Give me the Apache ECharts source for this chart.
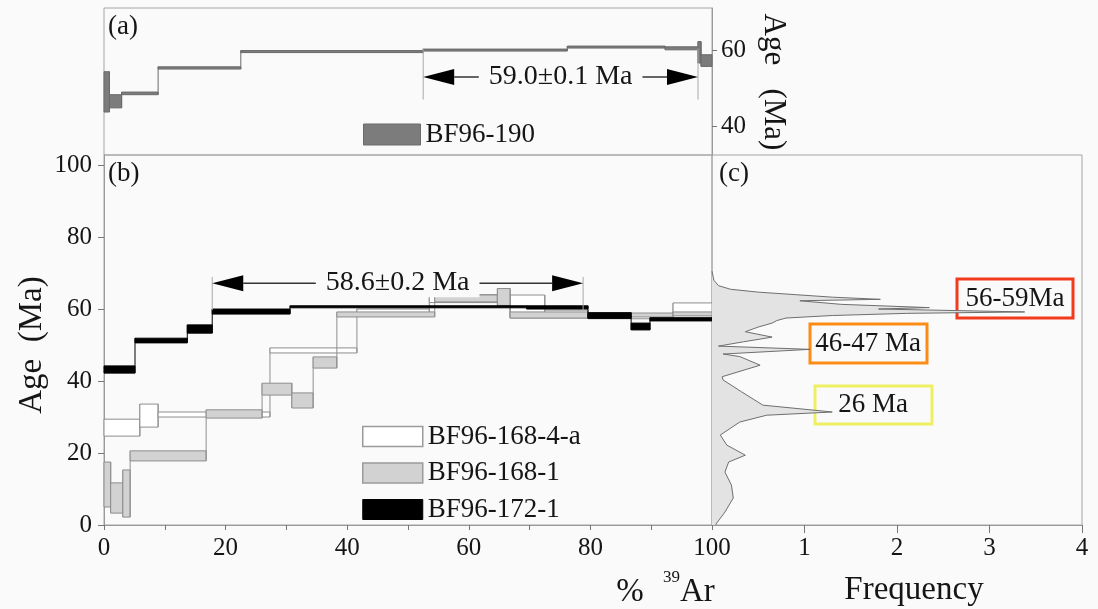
<!DOCTYPE html>
<html>
<head>
<meta charset="utf-8">
<title>Ar-Ar age spectra</title>
<script src="https://cdn.jsdelivr.net/npm/echarts@6/dist/echarts.min.js"></script>
<style>
  html, body { margin: 0; padding: 0; background: #fafafa; }
  #main { width: 1098px; height: 609px; }
</style>
</head>
<body>
<div id="main"></div>
<script>
// age spectra steps: [start %39Ar, end %39Ar, age low (Ma), age high (Ma)]
const bf96_190 = [
  [0, 0.9, 43.7, 54.4],
  [0.9, 2.9, 44.8, 48.3],
  [2.9, 8.9, 48.3, 49.0],
  [8.9, 22.5, 55.1, 55.7],
  [22.5, 52.5, 59.5, 60.0],
  [52.5, 76.2, 59.9, 60.4],
  [76.2, 92.3, 60.8, 61.2],
  [92.3, 97.7, 60.2, 61.0],
  [97.7, 98.2, 56.7, 62.4],
  [98.2, 100, 55.8, 58.9]
];
const bf96_168_4a = [
  [0, 5.9, 24.7, 29.4],
  [5.9, 8.9, 27.2, 33.6],
  [8.9, 27.3, 30.0, 31.4],
  [27.3, 41.6, 47.8, 49.2],
  [41.6, 53.5, 58.0, 60.0],
  [53.5, 66.8, 61.8, 64.0],
  [66.8, 72.5, 57.5, 63.9],
  [72.5, 79.6, 57.5, 59.7],
  [79.6, 93.6, 57.3, 58.6],
  [93.6, 100, 58.9, 61.7]
];
const bf96_168_1 = [
  [0, 1.1, 5.0, 17.5],
  [1.1, 3.1, 3.3, 11.7],
  [3.1, 4.3, 2.2, 15.3],
  [4.3, 16.8, 17.8, 20.6],
  [16.8, 26.0, 29.7, 32.0],
  [26.0, 30.9, 36.1, 39.4],
  [30.9, 34.4, 32.5, 36.7],
  [34.4, 38.3, 43.6, 46.7],
  [38.3, 54.4, 57.8, 59.2],
  [54.4, 64.7, 62.0, 63.9],
  [64.7, 66.8, 61.0, 65.7],
  [66.8, 79.6, 57.5, 59.2],
  [79.6, 93.6, 57.8, 58.9],
  [93.6, 100, 58.1, 59.2]
];
const bf96_172_1 = [
  [0, 5.1, 42.2, 44.2],
  [5.1, 13.7, 50.6, 51.9],
  [13.7, 17.8, 53.3, 55.6],
  [17.8, 30.6, 58.6, 60.0],
  [30.6, 69.5, 60.5, 60.9],
  [69.5, 79.6, 60.0, 60.9],
  [79.6, 86.7, 57.4, 59.0],
  [86.7, 89.8, 54.2, 56.1],
  [89.8, 100, 56.7, 57.6]
];

// plateau ranges (% 39Ar) and their ages
const plateauA = [52.5, 97.7];
const plateauB = [17.8, 78.8];
const plateauTextA = '59.0±0.1 Ma';
const plateauTextB = '58.6±0.2 Ma';

// relative probability curve, panel (c)
const freqAge = [70.5, 68, 66.5, 65.5, 64.7, 64.0, 63.3, 62.7, 62.3, 61.3, 60.4, 60.0, 59.2, 58.8,
  58.2, 57.5, 56.8, 56.1, 55.0, 53.7, 52.2, 50.9, 49.7, 48.8, 47.5, 46.8, 44.4, 41.2, 40.3, 37.0,
  33.3, 31.4, 30.5, 28.6, 25.0, 22.2, 19.4, 17.5, 14.7, 11.1, 7.5, 3.6, 0.5, 0];
const freqValue = [0, 0.02, 0.07, 0.2, 0.5, 0.9, 1.3, 1.82, 0.95, 1.4, 2.35, 1.8, 3.38, 2.1,
  1.3, 0.8, 0.7, 0.65, 0.5, 0.36, 0.65, 0.34, 0.07, 1.06, 0.12, 0.3, 0.52, 0.11, 0.12, 0.32,
  0.55, 1.3, 0.59, 0.3, 0.09, 0.16, 0.36, 0.18, 0.14, 0.21, 0.23, 0.14, 0.05, 0.04];

// ticks
const pctTicks = [0, 10, 20, 30, 40, 50, 60, 70, 80, 90, 100];
const pctLabels = [0, 20, 40, 60, 80, 100];
const ageTicks = [0, 20, 40, 60, 80, 100];
const ageTicksTop = [40, 60];
const freqTicks = [1, 2, 3, 4];

const FONT = 'Liberation Serif';
const INK = '#151515';
const BG = '#fafafa';

// one rectangle per heating step, joined to the previous step by a vertical line
function stepRenderer(steps, fill, stroke, minH) {
  return function (params, api) {
    const s = steps[params.dataIndex];
    const tl = api.coord([s[0], s[3]]);
    const br = api.coord([s[1], s[2]]);
    const h = Math.max(br[1] - tl[1], minH);
    const children = [];
    const prev = steps[params.dataIndex - 1];
    if (prev) {
      const a = api.coord([s[0], Math.max(prev[3], s[3])]);
      const b = api.coord([s[0], Math.min(prev[2], s[2])]);
      children.push({
        type: 'line',
        shape: { x1: a[0], y1: a[1], x2: b[0], y2: b[1] },
        style: { stroke: stroke, lineWidth: 1 }
      });
    }
    children.push({
      type: 'rect',
      shape: { x: tl[0], y: tl[1], width: br[0] - tl[0], height: h },
      style: { fill: fill, stroke: stroke, lineWidth: 1 }
    });
    return { type: 'group', children: children };
  };
}

// double-headed plateau arrow with its age label
function arrowRenderer(range, level, guide, text) {
  return function (params, api) {
    const L = api.coord([range[0], level]);
    const R = api.coord([range[1], level]);
    const gTop = api.coord([range[0], guide[0]])[1];
    const gBot = api.coord([range[0], guide[1]])[1];
    const y = L[1], len = 31, hw = 8;
    return {
      type: 'group',
      children: [
        { type: 'line', shape: { x1: L[0], y1: gTop, x2: L[0], y2: gBot }, style: { stroke: '#a8a8a8', lineWidth: 1 } },
        { type: 'line', shape: { x1: R[0], y1: gTop, x2: R[0], y2: gBot }, style: { stroke: '#a8a8a8', lineWidth: 1 } },
        { type: 'line', shape: { x1: L[0] + len, y1: y, x2: R[0] - len, y2: y }, style: { stroke: '#333', lineWidth: 1.5 } },
        { type: 'polygon', shape: { points: [[L[0], y], [L[0] + len, y - hw], [L[0] + len, y + hw]] }, style: { fill: '#000' } },
        { type: 'polygon', shape: { points: [[R[0], y], [R[0] - len, y - hw], [R[0] - len, y + hw]] }, style: { fill: '#000' } },
        {
          type: 'text',
          style: {
            text: text, x: (L[0] + R[0]) / 2, y: y, align: 'center', verticalAlign: 'middle',
            fontSize: 28, fontFamily: FONT, fill: INK, backgroundColor: BG, padding: [0, 10]
          }
        }
      ]
    };
  };
}

function freqRenderer(params, api) {
  if (params.dataIndex !== 0) return null;
  const pts = freqAge.map((a, i) => api.coord([freqValue[i], a]));
  const area = pts.concat([api.coord([0, freqAge[freqAge.length - 1]]), api.coord([0, freqAge[0]])]);
  return {
    type: 'group',
    children: [
      { type: 'polygon', shape: { points: area }, style: { fill: '#e3e3e3' } },
      { type: 'polyline', shape: { points: pts }, style: { stroke: '#6e6e6e', lineWidth: 1, fill: null } }
    ]
  };
}

const axisLineStyle = { show: true, onZero: false, lineStyle: { color: '#9a9a9a', width: 1 } };
const labelStyle = { fontSize: 25, fontFamily: FONT, color: INK };

const option = {
  backgroundColor: BG,
  animation: false,
  grid: [
    { left: 104, top: 8, width: 608, height: 147, show: true, borderColor: '#a4a4a4', backgroundColor: 'transparent' },
    { left: 104, top: 155, width: 608, height: 370, show: true, borderColor: '#a4a4a4', backgroundColor: 'transparent' },
    { left: 712, top: 155, width: 370, height: 370, show: true, borderColor: '#a4a4a4', backgroundColor: 'transparent' }
  ],
  xAxis: [
    { gridIndex: 0, type: 'value', min: 0, max: 100, show: false },
    {
      gridIndex: 1, type: 'value', min: 0, max: 100,
      axisLine: axisLineStyle,
      axisTick: { inside: false, customValues: pctTicks, length: 5, lineStyle: { color: '#777' } },
      axisLabel: Object.assign({ customValues: pctLabels, margin: 11 }, labelStyle),
      splitLine: { show: false }
    },
    {
      gridIndex: 2, type: 'value', min: 0, max: 4,
      axisLine: axisLineStyle,
      axisTick: { inside: false, customValues: freqTicks, length: 8, lineStyle: { color: '#777' } },
      axisLabel: Object.assign({ customValues: freqTicks, margin: 11 }, labelStyle),
      splitLine: { show: false }
    }
  ],
  yAxis: [
    {
      gridIndex: 0, type: 'value', position: 'right', min: 32.3, max: 71.3,
      axisLine: axisLineStyle,
      axisTick: { inside: false, customValues: ageTicksTop, length: 5, lineStyle: { color: '#777' } },
      axisLabel: Object.assign({ customValues: ageTicksTop, margin: 9 }, labelStyle),
      splitLine: { show: false }
    },
    {
      gridIndex: 1, type: 'value', min: 0, max: 102.8,
      axisLine: axisLineStyle,
      axisTick: { inside: false, customValues: ageTicks, length: 6, lineStyle: { color: '#777' } },
      axisLabel: Object.assign({ customValues: ageTicks, margin: 12 }, labelStyle),
      splitLine: { show: false }
    },
    { gridIndex: 2, type: 'value', min: 0, max: 102.8, show: false }
  ],
  legend: [
    {
      left: 358, top: 116, itemWidth: 57, itemHeight: 21, selectedMode: false,
      textStyle: { fontSize: 27, fontFamily: FONT, color: INK, lineHeight: 21 },
      data: [{ name: 'BF96-190', icon: 'rect', itemStyle: { color: '#7c7c7c', borderColor: '#6a6a6a', borderWidth: 1 } }]
    },
    {
      left: 357, top: 418, orient: 'vertical', itemWidth: 60, itemHeight: 20, itemGap: 9.5, selectedMode: false,
      textStyle: { fontSize: 27, fontFamily: FONT, color: INK, lineHeight: 20 },
      data: [
        { name: 'BF96-168-4-a', icon: 'rect', itemStyle: { color: '#ffffff', borderColor: '#9a9a9a', borderWidth: 1.5 } },
        { name: 'BF96-168-1', icon: 'rect', itemStyle: { color: '#d2d2d2', borderColor: '#9a9a9a', borderWidth: 1.5 } },
        { name: 'BF96-172-1', icon: 'rect', itemStyle: { color: '#000000', borderColor: '#000000', borderWidth: 1 } }
      ]
    }
  ],
  series: [
    {
      name: 'BF96-190', type: 'custom', xAxisIndex: 0, yAxisIndex: 0,
      itemStyle: { color: '#7c7c7c' },
      renderItem: stepRenderer(bf96_190, '#7c7c7c', '#6a6a6a', 2),
      encode: { x: [0, 1], y: [2, 3] }, data: bf96_190
    },
    {
      type: 'custom', xAxisIndex: 0, yAxisIndex: 0, silent: true,
      renderItem: arrowRenderer(plateauA, 53.0, [60.6, 47.0], plateauTextA),
      encode: { x: [0, 1] }, data: [plateauA]
    },
    {
      name: 'BF96-168-4-a', type: 'custom', xAxisIndex: 1, yAxisIndex: 1,
      itemStyle: { color: '#ffffff' },
      renderItem: stepRenderer(bf96_168_4a, '#ffffff', '#8e8e8e', 1.5),
      encode: { x: [0, 1], y: [2, 3] }, data: bf96_168_4a
    },
    {
      name: 'BF96-168-1', type: 'custom', xAxisIndex: 1, yAxisIndex: 1,
      itemStyle: { color: '#d2d2d2' },
      renderItem: stepRenderer(bf96_168_1, '#d2d2d2', '#8e8e8e', 1.5),
      encode: { x: [0, 1], y: [2, 3] }, data: bf96_168_1
    },
    {
      name: 'BF96-172-1', type: 'custom', xAxisIndex: 1, yAxisIndex: 1,
      itemStyle: { color: '#000000' },
      renderItem: stepRenderer(bf96_172_1, '#000000', '#000000', 2),
      encode: { x: [0, 1], y: [2, 3] }, data: bf96_172_1
    },
    {
      type: 'custom', xAxisIndex: 1, yAxisIndex: 1, silent: true,
      renderItem: arrowRenderer(plateauB, 67.2, [68.9, 59.7], plateauTextB),
      encode: { x: [0, 1] }, data: [plateauB]
    },
    {
      type: 'custom', xAxisIndex: 2, yAxisIndex: 2, silent: true,
      renderItem: freqRenderer,
      encode: { x: 0, y: 1 },
      data: freqAge.map((a, i) => [freqValue[i], a])
    }
  ],
  graphic: [
    { type: 'text', left: 108, top: 13, style: { text: '(a)', fontSize: 27, fontFamily: FONT, fill: INK } },
    { type: 'text', left: 108, top: 160, style: { text: '(b)', fontSize: 27, fontFamily: FONT, fill: INK } },
    { type: 'text', left: 719, top: 160, style: { text: '(c)', fontSize: 27, fontFamily: FONT, fill: INK } },
    {
      type: 'text', x: 773, y: 82, rotation: -Math.PI / 2,
      style: { text: 'Age   (Ma)', fontSize: 31, fontFamily: FONT, fill: INK, textAlign: 'center', textVerticalAlign: 'middle' }
    },
    {
      type: 'text', x: 32, y: 345, rotation: Math.PI / 2,
      style: { text: 'Age  (Ma)', fontSize: 33, fontFamily: FONT, fill: INK, textAlign: 'center', textVerticalAlign: 'middle' }
    },
    { type: 'text', x: 630, y: 592, style: { text: '%', fontSize: 33, fontFamily: FONT, fill: INK, textAlign: 'center', textVerticalAlign: 'middle' } },
    { type: 'text', x: 663, y: 578, style: { text: '39', fontSize: 17, fontFamily: FONT, fill: INK, textAlign: 'left', textVerticalAlign: 'middle' } },
    { type: 'text', x: 680, y: 592, style: { text: 'Ar', fontSize: 33, fontFamily: FONT, fill: INK, textAlign: 'left', textVerticalAlign: 'middle' } },
    { type: 'text', x: 914, y: 590, style: { text: 'Frequency', fontSize: 33, fontFamily: FONT, fill: INK, textAlign: 'center', textVerticalAlign: 'middle' } },
    { type: 'rect', shape: { x: 957, y: 279, width: 116, height: 39 }, style: { fill: 'transparent', stroke: '#f23a1c', lineWidth: 3 } },
    { type: 'text', x: 1015, y: 299, style: { text: '56-59Ma', fontSize: 27, fontFamily: FONT, fill: INK, textAlign: 'center', textVerticalAlign: 'middle' } },
    { type: 'rect', shape: { x: 810, y: 324, width: 117, height: 39 }, style: { fill: 'transparent', stroke: '#fb8c16', lineWidth: 3 } },
    { type: 'text', x: 868, y: 344, style: { text: '46-47 Ma', fontSize: 27, fontFamily: FONT, fill: INK, textAlign: 'center', textVerticalAlign: 'middle' } },
    { type: 'rect', shape: { x: 815, y: 386, width: 117, height: 38 }, style: { fill: 'transparent', stroke: '#eef062', lineWidth: 3 } },
    { type: 'text', x: 873, y: 405, style: { text: '26 Ma', fontSize: 27, fontFamily: FONT, fill: INK, textAlign: 'center', textVerticalAlign: 'middle' } }
  ]
};

const chart = echarts.init(document.getElementById('main'));
chart.setOption(option);
</script>
</body>
</html>
